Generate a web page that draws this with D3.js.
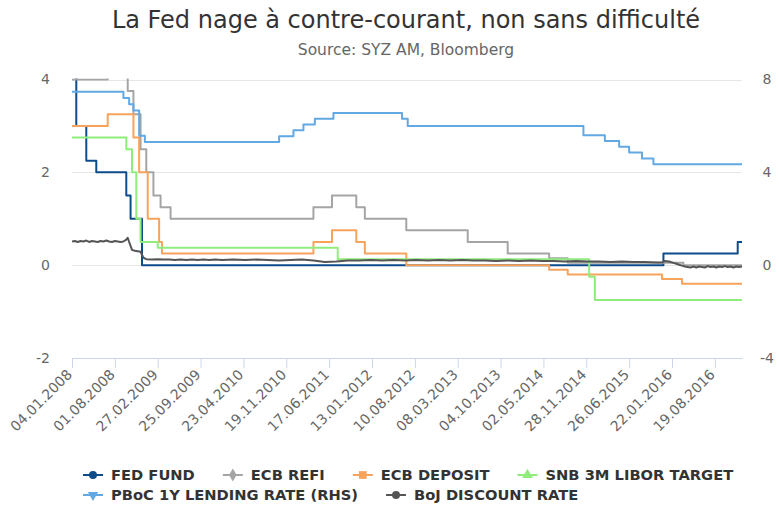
<!DOCTYPE html>
<html>
<head>
<meta charset="utf-8">
<script src="https://cdnjs.cloudflare.com/ajax/libs/d3/7.8.5/d3.min.js"></script>
<style>
	body { margin: 0; background: #fff; }
	text { font-family: "DejaVu Sans", Verdana, sans-serif; }
</style>
</head>
<body>
<div class="chart"></div>
<script>

// tick labels of the date axis (one every 30 weeks)
var tickLabels = ["04.01.2008", "01.08.2008", "27.02.2009", "25.09.2009", "23.04.2010",
	"19.11.2010", "17.06.2011", "13.01.2012", "10.08.2012", "08.03.2013", "04.10.2013",
	"02.05.2014", "28.11.2014", "26.06.2015", "22.01.2016", "19.08.2016"];
var leftTicks = [-2, 0, 2, 4];
var rightTicks = [-4, 0, 4, 8];

// policy rates, [date the level starts, level]
var fedFund = [["04.01.2008", 4.25], ["25.01.2008", 3.0], ["14.03.2008", 2.25], ["02.05.2008", 2.0],
	["26.09.2008", 1.5], ["17.10.2008", 1.0], ["12.12.2008", 0], ["11.12.2015", 0.25],
	["09.12.2016", 0.5], ["30.12.2016", 0.5]];

var ecbRefi = [["04.01.2008", 4.0], ["27.06.2008", 4.25], ["03.10.2008", 3.75], ["31.10.2008", 3.25],
	["05.12.2008", 2.5], ["02.01.2009", 2.0], ["06.02.2009", 1.5], ["13.03.2009", 1.25],
	["01.05.2009", 1.0], ["01.04.2011", 1.25], ["01.07.2011", 1.5], ["28.10.2011", 1.25],
	["09.12.2011", 1.0], ["29.06.2012", 0.75], ["26.04.2013", 0.5], ["08.11.2013", 0.25],
	["30.05.2014", 0.15], ["29.08.2014", 0.05], ["18.03.2016", 0], ["30.12.2016", 0]];

var ecbDeposit = [["04.01.2008", 3.0], ["27.06.2008", 3.25], ["31.10.2008", 2.75], ["28.11.2008", 2.0],
	["09.01.2009", 1.0], ["06.03.2009", 0.5], ["20.03.2009", 0.25], ["01.04.2011", 0.5],
	["01.07.2011", 0.75], ["28.10.2011", 0.5], ["09.12.2011", 0.25], ["29.06.2012", 0],
	["30.05.2014", -0.1], ["29.08.2014", -0.2], ["04.12.2015", -0.3], ["11.03.2016", -0.4],
	["30.12.2016", -0.4]];

var snbTarget = [["04.01.2008", 2.75], ["26.09.2008", 2.5], ["24.10.2008", 2.0], ["14.11.2008", 1.0],
	["05.12.2008", 0.5], ["27.02.2009", 0.375], ["29.07.2011", 0.125], ["12.12.2014", -0.25],
	["09.01.2015", -0.75], ["30.12.2016", -0.75]];

// right hand scale
var pbocLending = [["04.01.2008", 7.47], ["12.09.2008", 7.2], ["10.10.2008", 6.93], ["31.10.2008", 6.66],
	["28.11.2008", 5.58], ["26.12.2008", 5.31], ["15.10.2010", 5.56], ["24.12.2010", 5.81],
	["11.02.2011", 6.06], ["08.04.2011", 6.31], ["08.07.2011", 6.56], ["08.06.2012", 6.31],
	["06.07.2012", 6.0], ["14.11.2014", 5.6], ["27.02.2015", 5.35], ["08.05.2015", 5.1],
	["26.06.2015", 4.85], ["28.08.2015", 4.6], ["23.10.2015", 4.35], ["30.12.2016", 4.35]];

// market rate, drawn point to point
var bojRate = [["04.01.2008", 0.51], ["18.01.2008", 0.52], ["01.02.2008", 0.50], ["15.02.2008", 0.52],
	["29.02.2008", 0.51], ["14.03.2008", 0.53], ["28.03.2008", 0.50], ["11.04.2008", 0.52],
	["25.04.2008", 0.51], ["09.05.2008", 0.50], ["23.05.2008", 0.52], ["06.06.2008", 0.51],
	["20.06.2008", 0.53], ["04.07.2008", 0.51], ["18.07.2008", 0.50], ["01.08.2008", 0.52],
	["15.08.2008", 0.51], ["29.08.2008", 0.50], ["12.09.2008", 0.51], ["26.09.2008", 0.55],
	["03.10.2008", 0.59], ["10.10.2008", 0.50], ["24.10.2008", 0.33], ["07.11.2008", 0.31],
	["21.11.2008", 0.30], ["05.12.2008", 0.29], ["19.12.2008", 0.16], ["02.01.2009", 0.13],
	["30.01.2009", 0.12], ["27.02.2009", 0.13], ["27.03.2009", 0.12], ["24.04.2009", 0.12],
	["22.05.2009", 0.11], ["19.06.2009", 0.12], ["17.07.2009", 0.11], ["14.08.2009", 0.12],
	["11.09.2009", 0.11], ["09.10.2009", 0.12], ["06.11.2009", 0.11], ["04.12.2009", 0.12],
	["08.01.2010", 0.11], ["05.03.2010", 0.12], ["30.04.2010", 0.11], ["25.06.2010", 0.12],
	["20.08.2010", 0.11], ["15.10.2010", 0.10], ["10.12.2010", 0.11], ["04.02.2011", 0.12],
	["01.04.2011", 0.10], ["27.05.2011", 0.07], ["22.07.2011", 0.08], ["16.09.2011", 0.10],
	["11.11.2011", 0.10], ["06.01.2012", 0.11], ["02.03.2012", 0.10], ["27.04.2012", 0.11],
	["22.06.2012", 0.10], ["17.08.2012", 0.11], ["12.10.2012", 0.10], ["07.12.2012", 0.11],
	["01.02.2013", 0.10], ["29.03.2013", 0.11], ["24.05.2013", 0.10], ["19.07.2013", 0.10],
	["13.09.2013", 0.09], ["08.11.2013", 0.10], ["03.01.2014", 0.09], ["28.02.2014", 0.10],
	["25.04.2014", 0.09], ["20.06.2014", 0.09], ["15.08.2014", 0.08], ["10.10.2014", 0.09],
	["05.12.2014", 0.08], ["30.01.2015", 0.08], ["27.03.2015", 0.07], ["22.05.2015", 0.08],
	["17.07.2015", 0.07], ["11.09.2015", 0.07], ["06.11.2015", 0.06], ["04.12.2015", 0.06],
	["18.12.2015", 0.09], ["08.01.2016", 0.08], ["29.01.2016", 0.05], ["12.02.2016", 0.03],
	["26.02.2016", 0.01], ["11.03.2016", -0.01], ["25.03.2016", -0.03], ["08.04.2016", -0.04],
	["22.04.2016", -0.05], ["06.05.2016", -0.03], ["20.05.2016", -0.05], ["03.06.2016", -0.03],
	["17.06.2016", -0.04], ["01.07.2016", -0.05], ["15.07.2016", -0.02], ["29.07.2016", -0.04],
	["12.08.2016", -0.03], ["26.08.2016", -0.05], ["09.09.2016", -0.03], ["23.09.2016", -0.04],
	["07.10.2016", -0.02], ["21.10.2016", -0.04], ["04.11.2016", -0.03], ["18.11.2016", -0.05],
	["02.12.2016", -0.03], ["16.12.2016", -0.04], ["30.12.2016", -0.03]];

var series = [
	{name: "FED FUND", data: fedFund, color: "#0d4c8b", symbol: "circle", axis: "left", step: true},
	{name: "ECB REFI", data: ecbRefi, color: "#a5a5a5", symbol: "diamond", axis: "left", step: true},
	{name: "ECB DEPOSIT", data: ecbDeposit, color: "#f7a35c", symbol: "square", axis: "left", step: true},
	{name: "SNB 3M LIBOR TARGET", data: snbTarget, color: "#90ed7d", symbol: "triangle", axis: "left", step: true},
	{name: "PBoC 1Y LENDING RATE (RHS)", data: pbocLending, color: "#62a8e3", symbol: "triangle-down", axis: "right", step: true},
	{name: "BoJ DISCOUNT RATE", data: bojRate, color: "#555555", symbol: "circle", axis: "left", step: false}
];

var width = 779,
	height = 506,
	plot = {left: 72, right: 742, top: 79.5, bottom: 358};

var parseDate = d3.timeParse("%d.%m.%Y");

var svg = d3.select(".chart").append("svg")
	.attr("width", width)
	.attr("height", height);

svg.append("rect").attr("width", width).attr("height", height).attr("fill", "#fff");

// scales
var x = d3.scaleTime()
	.domain([parseDate("04.01.2008"), parseDate("30.12.2016")])
	.range([plot.left, plot.right]);

var yLeft = d3.scaleLinear().domain([-2, 4]).range([plot.bottom, plot.top]);
var yRight = d3.scaleLinear().domain([-4, 8]).range([plot.bottom, plot.top]);

// titles
svg.append("text")
	.attr("x", 406)
	.attr("y", 27.5)
	.attr("text-anchor", "middle")
	.attr("fill", "#333")
	.style("font-size", "24px")
	.text("La Fed nage à contre-courant, non sans difficulté");

svg.append("text")
	.attr("x", 406)
	.attr("y", 55)
	.attr("text-anchor", "middle")
	.attr("fill", "#666")
	.style("font-size", "15.5px")
	.text("Source: SYZ AM, Bloomberg");

// grid lines
svg.append("g").selectAll("line")
	.data(leftTicks.filter(function(d) { return d > -2; }))
	.enter().append("line")
	.attr("x1", plot.left)
	.attr("x2", plot.right)
	.attr("y1", function(d) { return Math.round(yLeft(d)) + 0.5; })
	.attr("y2", function(d) { return Math.round(yLeft(d)) + 0.5; })
	.attr("stroke", "#e6e6e6");

var plain = function(d) { return String(d); };

// left axis
var leftAxis = svg.append("g")
	.attr("transform", "translate(" + plot.left + ",0)")
	.call(d3.axisLeft(yLeft).tickValues(leftTicks).tickFormat(plain).tickSize(0).tickPadding(22));
leftAxis.select(".domain").remove();
leftAxis.selectAll("text").attr("fill", "#666").style("font-size", "14px");

// right axis
var rightAxis = svg.append("g")
	.attr("transform", "translate(" + plot.right + ",0)")
	.call(d3.axisRight(yRight).tickValues(rightTicks).tickFormat(plain).tickSize(0).tickPadding(25));
rightAxis.select(".domain").remove();
rightAxis.selectAll("text")
	.attr("text-anchor", "middle")
	.attr("fill", "#666")
	.style("font-size", "14px");

// bottom axis
var bottomAxis = svg.append("g")
	.attr("transform", "translate(0," + plot.bottom + ")")
	.call(d3.axisBottom(x)
		.tickValues(tickLabels.map(parseDate))
		.tickFormat(d3.timeFormat("%d.%m.%Y"))
		.tickSize(10)
		.tickSizeOuter(0));
bottomAxis.select(".domain").attr("stroke", "#ccd6eb");
bottomAxis.selectAll(".tick line").attr("stroke", "#ccd6eb");
bottomAxis.selectAll("text")
	.attr("x", 0)
	.attr("y", 0)
	.attr("dy", "0.35em")
	.attr("text-anchor", "end")
	.attr("transform", "translate(-3,14) rotate(-45)")
	.attr("fill", "#666")
	.style("font-size", "14px");

// clip lines to the plot area
svg.append("clipPath")
	.attr("id", "plot-clip")
	.append("rect")
	.attr("x", plot.left)
	.attr("y", plot.top - 1)
	.attr("width", plot.right - plot.left)
	.attr("height", plot.bottom - plot.top + 2);

var lines = svg.append("g").attr("clip-path", "url(#plot-clip)");

series.forEach(function(s) {
	var y = s.axis == "right" ? yRight : yLeft;
	var line = d3.line()
		.x(function(d) { return x(parseDate(d[0])); })
		.y(function(d) { return y(d[1]); })
		.curve(s.step ? d3.curveStepAfter : d3.curveLinear);

	lines.append("path")
		.datum(s.data)
		.attr("fill", "none")
		.attr("stroke", s.color)
		.attr("stroke-width", 2)
		.attr("stroke-linejoin", "round")
		.attr("d", line);
});

// legend
function symbolPath(name) {
	if (name == "triangle-down") return d3.symbol(d3.symbolTriangle, 46)();
	var types = {circle: d3.symbolCircle, diamond: d3.symbolDiamond, square: d3.symbolSquare, triangle: d3.symbolTriangle};
	return d3.symbol(types[name], name == "square" ? 60 : 50)();
}

var rows = [series.slice(0, 4), series.slice(4)];
var rowY = [475, 495];

rows.forEach(function(row, r) {
	var xPos = 83;
	row.forEach(function(s) {
		var item = svg.append("g").attr("transform", "translate(" + xPos + "," + rowY[r] + ")");

		item.append("line")
			.attr("x1", 0)
			.attr("x2", 20)
			.attr("stroke", s.color)
			.attr("stroke-width", 2);

		item.append("path")
			.attr("d", symbolPath(s.symbol))
			.attr("transform", "translate(10,0)" + (s.symbol == "triangle-down" ? " rotate(180)" : ""))
			.attr("fill", s.color);

		var label = item.append("text")
			.attr("x", 28)
			.attr("y", 5)
			.attr("fill", "#333")
			.style("font-size", "14.7px")
			.style("font-weight", "bold")
			.text(s.name);

		xPos += 28 + label.node().getComputedTextLength() + 28;
	});
});

</script>
</body>
</html>
